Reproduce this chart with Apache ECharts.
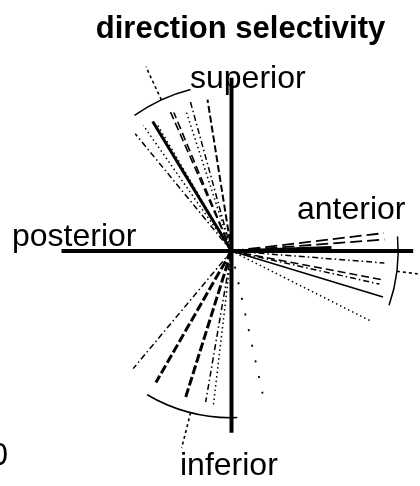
<!DOCTYPE html>
<html>
<head>
<meta charset="utf-8">
<script src="https://cdn.jsdelivr.net/npm/echarts@6/dist/echarts.min.js"></script>
<style>
  html, body { margin: 0; padding: 0; background: #fff; }
  #chart { width: 420px; height: 486px; }
</style>
</head>
<body>
<div id="chart"></div>
<script>
// Directions in degrees: 0 = anterior, 90 = superior, 180 = posterior, 270 = inferior.
// Lengths are normalized vector magnitudes.

// Cell group pointing up and back
const upperAngles  = [129.4, 125.1, 121.3, 120.4, 113.7, 112.6, 108.0, 105.4, 99.0];
const upperLengths = [0.91, 0.92, 0.91, 0.89, 0.91, 0.90, 0.88, 0.93, 0.92];

// Cell group pointing forward
const frontAngles  = [6.7, 4.3, 2.0, -4.5, -10.8, -12.6, -16.9, -26.7];
const frontLengths = [0.92, 0.92, 0.60, 0.92, 0.93, 0.91, 0.95, 0.93];

// Cell group pointing down and back
const lowerAngles  = [230.1, 240.1, 252.6, 260.3, 263.3, 282.3];
const lowerLengths = [0.92, 0.91, 0.92, 0.92, 0.93, 0.93];

// Population mean direction and angular spread of each group
const groupMeans   = [114.9, -7.0, 255.8];
const groupSpreads = [10.7, 12.0, 16.2];
const spreadRadius = 1.0;
const meanReach    = 1.22;

// Reference axes: anterior, superior, posterior, inferior
const axisAngles = [0, 90, 180, 270];
const axisReach  = [1.09, 1.04, 1.02, 1.09];
const axisNames  = ['anterior', 'superior', 'posterior', 'inferior'];

// Line styles used for the individual vectors
const LINE_STYLES = {
  thick:     { w: 3,   dash: null },
  mid:       { w: 2,   dash: [7, 3] },
  solid:     { w: 1.6, dash: null },
  dash:      { w: 1.6, dash: [8, 4] },
  longdash:  { w: 1.8, dash: [12, 5] },
  dot:       { w: 1.5, dash: [1.5, 3] },
  dashdot:   { w: 1.5, dash: [6, 3, 1.5, 3] },
  thickdash: { w: 3,   dash: [9, 3] },
  sparse:    { w: 1.8, dash: [2, 14] }
};
const upperStyles = ['dashdot', 'dot', 'thick', 'dot', 'dash', 'dash', 'dot', 'dashdot', 'mid'];
const frontStyles = ['longdash', 'longdash', 'thick', 'dashdot', 'dash', 'dashdot', 'solid', 'dot'];
const lowerStyles = ['dashdot', 'thickdash', 'thickdash', 'dashdot', 'dot', 'sparse'];

const FONT = '"Liberation Sans", Arial, Helvetica, sans-serif';
const LABEL_SIZE = 32;

function rayRenderer(styles) {
  return function (params, api) {
    const r = api.value(0), a = api.value(1);
    const p0 = api.coord([0, a]);
    const p1 = api.coord([r, a]);
    const s = LINE_STYLES[styles[params.dataIndex]];
    return {
      type: 'line',
      silent: true,
      shape: { x1: p0[0], y1: p0[1], x2: p1[0], y2: p1[1] },
      style: { stroke: '#000', lineWidth: s.w, lineDash: s.dash, lineCap: 'butt', fill: null }
    };
  };
}

function pairs(lengths, angles) {
  return lengths.map((r, i) => [r, angles[i]]);
}

const chart = echarts.init(document.getElementById('chart'), null, { renderer: 'canvas' });

const series = [
  {
    type: 'custom', coordinateSystem: 'polar', name: 'axes',
    data: pairs(axisReach, axisAngles),
    renderItem: function (params, api) {
      const r = api.value(0), a = api.value(1);
      const p0 = api.coord([0, a]);
      const p1 = api.coord([r, a]);
      return {
        type: 'line', silent: true,
        shape: { x1: p0[0], y1: p0[1], x2: p1[0], y2: p1[1] },
        style: { stroke: '#000', lineWidth: 4, lineCap: 'butt' }
      };
    }
  },
  { type: 'custom', coordinateSystem: 'polar', name: 'upper', data: pairs(upperLengths, upperAngles), renderItem: rayRenderer(upperStyles) },
  { type: 'custom', coordinateSystem: 'polar', name: 'front', data: pairs(frontLengths, frontAngles), renderItem: rayRenderer(frontStyles) },
  { type: 'custom', coordinateSystem: 'polar', name: 'lower', data: pairs(lowerLengths, lowerAngles), renderItem: rayRenderer(lowerStyles) },
  {
    // spread arcs (mean +/- spread) and mean direction lines
    type: 'custom', coordinateSystem: 'polar', name: 'mean',
    data: groupMeans.map((m, i) => [spreadRadius, m, groupSpreads[i]]),
    renderItem: function (params, api) {
      const r = api.value(0), m = api.value(1), sp = api.value(2);
      const c = api.coord([0, m]);
      const pHi = api.coord([r, m + sp]);
      const pLo = api.coord([r, m - sp]);
      const rad = Math.hypot(pHi[0] - c[0], pHi[1] - c[1]);
      const start = Math.atan2(pHi[1] - c[1], pHi[0] - c[0]);
      let end = Math.atan2(pLo[1] - c[1], pLo[0] - c[0]);
      if (end < start) end += Math.PI * 2;
      const q0 = api.coord([r, m]);
      const q1 = api.coord([meanReach, m]);
      return {
        type: 'group',
        children: [
          {
            type: 'arc', silent: true,
            shape: { cx: c[0], cy: c[1], r: rad, startAngle: start, endAngle: end, clockwise: true },
            style: { stroke: '#000', lineWidth: 1.5, fill: null }
          },
          {
            type: 'line', silent: true,
            shape: { x1: q0[0], y1: q0[1], x2: q1[0], y2: q1[1] },
            style: { stroke: '#000', lineWidth: 1.6, lineDash: [3, 3] }
          }
        ]
      };
    }
  }
];

const label = (text, x, y, align) => ({
  type: 'text', x: x, y: y, silent: true,
  style: { text: text, font: LABEL_SIZE + 'px ' + FONT, fill: '#000', align: align, verticalAlign: 'middle' }
});

chart.setOption({
  animation: false,
  backgroundColor: '#fff',
  polar: { center: [231.5, 251], radius: 200 },
  angleAxis: {
    type: 'value', min: -90, max: 270, startAngle: 270, clockwise: false,
    axisLine: { show: false }, axisTick: { show: false }, axisLabel: { show: false }, splitLine: { show: false }
  },
  radiusAxis: {
    type: 'value', min: 0, max: 1.2,
    axisLine: { show: false }, axisTick: { show: false }, axisLabel: { show: false }, splitLine: { show: false }
  },
  graphic: [
    {
      type: 'text', x: 240.5, y: 29, silent: true,
      style: { text: 'direction selectivity', font: 'bold 31px ' + FONT, fill: '#000', align: 'center', verticalAlign: 'middle' }
    },
    label(axisNames[1], 190, 79, 'left'),
    label(axisNames[0], 297, 210, 'left'),
    label(axisNames[2], 12, 237, 'left'),
    label(axisNames[3], 180, 466, 'left'),
    label('0', 8, 456, 'right')
  ],
  series: series
});
</script>
</body>
</html>
